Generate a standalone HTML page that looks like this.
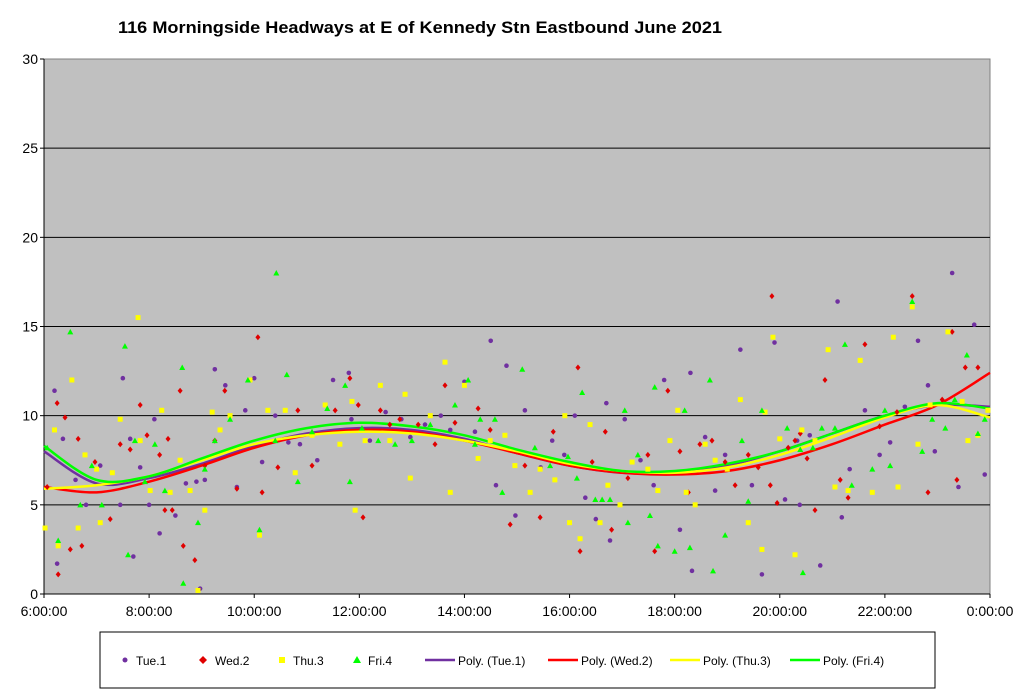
<!DOCTYPE html>
<html><head><meta charset="utf-8"><style>
body{margin:0;background:#fff;width:1024px;height:694px;overflow:hidden;font-family:"Liberation Sans",Arial,sans-serif}
</style></head><body>
<svg id="chart" width="1024" height="694" xmlns="http://www.w3.org/2000/svg" font-family="Liberation Sans, Arial, sans-serif">
<text x="118" y="33" font-size="17" font-weight="bold" textLength="604" lengthAdjust="spacingAndGlyphs">116 Morningside Headways at E of Kennedy Stn Eastbound June 2021</text>
<rect x="44" y="59" width="946" height="535" fill="#c0c0c0" stroke="#808080"/>
<g id="grid"></g><g id="axes"></g><g id="trends"></g><g id="points"></g>
<g>
<rect x="100" y="632" width="835" height="56" fill="#fff" stroke="#000"/>
<circle cx="125" cy="660" r="2.5" fill="#7030a0"/><text x="136" y="665" font-size="12">Tue.1</text>
<polygon points="203,656 207,660 203,664 199,660" fill="#e00000"/><text x="215" y="665" font-size="12">Wed.2</text>
<rect x="279" y="657" width="6" height="6" fill="#ffff00"/><text x="293" y="665" font-size="12">Thu.3</text>
<polygon points="357,656 361,663 353,663" fill="#00ff00"/><text x="368" y="665" font-size="12">Fri.4</text>
<line x1="425" y1="660" x2="455" y2="660" stroke="#7030a0" stroke-width="2.5"/><text x="458" y="665" font-size="12">Poly. (Tue.1)</text>
<line x1="548" y1="660" x2="578" y2="660" stroke="#ff0000" stroke-width="2.5"/><text x="581" y="665" font-size="12">Poly. (Wed.2)</text>
<line x1="670" y1="660" x2="700" y2="660" stroke="#ffff00" stroke-width="2.5"/><text x="703" y="665" font-size="12">Poly. (Thu.3)</text>
<line x1="790" y1="660" x2="820" y2="660" stroke="#00ff00" stroke-width="2.5"/><text x="823" y="665" font-size="12">Poly. (Fri.4)</text>
</g>
</svg>
<script>
const yTicks=[0,5,10,15,20,25,30];
const xTicks=[6,8,10,12,14,16,18,20,22,24];
const xTickLabels=["6:00:00","8:00:00","10:00:00","12:00:00","14:00:00","16:00:00","18:00:00","20:00:00","22:00:00","0:00:00"];
const trendHours=[6,7,8,9,10,11,12,13,14,15,16,17,18,19,20,21,22,23,24];
const tueTrend=[8.0,6.2,6.5,7.3,8.3,9.0,9.3,9.2,8.7,7.9,7.2,6.8,6.8,7.2,8.0,9.0,10.0,10.6,10.5];
const wedTrend=[6.0,5.7,6.3,7.2,8.2,8.9,9.2,9.1,8.6,7.9,7.2,6.8,6.7,6.9,7.5,8.4,9.5,10.6,12.4];
const thuTrend=[5.9,6.1,6.6,7.5,8.4,8.9,9.1,9.0,8.6,8.0,7.3,6.9,6.8,7.1,7.8,8.8,9.9,10.6,9.9];
const friTrend=[8.3,6.4,6.6,7.6,8.6,9.3,9.6,9.4,8.9,8.1,7.4,6.9,6.9,7.3,8.0,9.0,10.0,10.7,10.4];
const tuePoints=[[6.2,11.4],[6.25,1.7],[6.36,8.7],[6.6,6.4],[6.8,5.0],[7.07,7.2],[7.45,5.0],[7.5,12.1],[7.64,8.7],[7.7,2.1],[7.83,7.1],[8.0,5],[8.1,9.8],[8.2,3.4],[8.5,4.4],[8.7,6.2],[8.9,6.3],[8.97,0.3],[9.06,6.4],[9.25,12.6],[9.45,11.7],[9.67,6],[9.83,10.3],[10.0,12.1],[10.15,7.4],[10.4,10],[10.65,8.5],[10.87,8.4],[11.2,7.5],[11.5,12],[11.8,12.4],[11.85,9.8],[12.2,8.6],[12.5,10.2],[12.8,9.8],[12.97,8.8],[13.25,9.5],[13.55,10],[13.73,9.2],[14.0,11.9],[14.2,9.1],[14.5,14.2],[14.6,6.1],[14.8,12.8],[14.97,4.4],[15.15,10.3],[15.45,7.1],[15.67,8.6],[15.9,7.8],[16.1,10],[16.3,5.4],[16.5,4.2],[16.7,10.7],[16.77,3.0],[17.05,9.8],[17.35,7.5],[17.6,6.1],[17.8,12],[18.1,3.6],[18.3,12.4],[18.33,1.3],[18.58,8.8],[18.77,5.8],[18.96,7.8],[19.25,13.7],[19.47,6.1],[19.66,1.1],[19.9,14.1],[20.1,5.3],[20.33,8.6],[20.38,5.0],[20.57,8.9],[20.77,1.6],[21.1,16.4],[21.18,4.3],[21.33,7],[21.62,10.3],[21.9,7.8],[22.1,8.5],[22.38,10.5],[22.63,14.2],[22.82,11.7],[22.95,8],[23.28,18],[23.4,6],[23.7,15.1],[23.9,6.7]];
const wedPoints=[[6.06,6],[6.25,10.7],[6.27,1.1],[6.4,9.9],[6.5,2.5],[6.65,8.7],[6.72,2.7],[6.97,7.4],[7.26,4.2],[7.45,8.4],[7.64,8.1],[7.83,10.6],[7.96,8.9],[8.2,7.8],[8.3,4.7],[8.36,8.7],[8.44,4.7],[8.59,11.4],[8.65,2.7],[8.87,1.9],[9.06,7.2],[9.25,8.6],[9.44,11.4],[9.67,5.9],[10.07,14.4],[10.15,5.7],[10.45,7.1],[10.83,10.3],[11.1,7.2],[11.54,10.3],[11.82,12.1],[11.98,10.6],[12.07,4.3],[12.4,10.3],[12.58,9.5],[12.77,9.8],[13.12,9.5],[13.44,8.4],[13.63,11.7],[13.82,9.6],[14.26,10.4],[14.49,9.2],[14.87,3.9],[15.15,7.2],[15.44,4.3],[15.69,9.1],[16.16,12.7],[16.2,2.4],[16.43,7.4],[16.68,9.1],[16.8,3.6],[17.11,6.5],[17.49,7.8],[17.62,2.4],[17.87,11.4],[18.1,8.0],[18.26,5.7],[18.48,8.4],[18.71,8.6],[18.96,7.4],[19.15,6.1],[19.4,7.8],[19.59,7.1],[19.82,6.1],[19.85,16.7],[19.95,5.1],[20.16,8.2],[20.29,8.6],[20.39,9.0],[20.52,7.6],[20.67,4.7],[20.86,12],[21.15,6.4],[21.3,5.4],[21.62,14],[21.9,9.4],[22.23,10.2],[22.52,16.7],[22.82,5.7],[23.09,10.9],[23.28,14.7],[23.37,6.4],[23.53,12.7],[23.77,12.7]];
const thuPoints=[[6.02,3.7],[6.2,9.2],[6.27,2.7],[6.53,12],[6.65,3.7],[6.78,7.8],[7.0,7],[7.07,4],[7.3,6.8],[7.45,9.8],[7.79,15.5],[7.83,8.6],[8.02,5.8],[8.24,10.3],[8.4,5.7],[8.59,7.5],[8.78,5.8],[8.93,0.2],[9.06,4.7],[9.2,10.2],[9.35,9.2],[9.54,10],[9.92,12],[10.1,3.3],[10.26,10.3],[10.59,10.3],[10.78,6.8],[11.1,8.9],[11.35,10.6],[11.63,8.4],[11.86,10.8],[11.92,4.7],[12.11,8.6],[12.4,11.7],[12.58,8.6],[12.87,11.2],[12.97,6.5],[13.35,10],[13.63,13],[13.73,5.7],[14.0,11.7],[14.26,7.6],[14.49,8.6],[14.77,8.9],[14.96,7.2],[15.25,5.7],[15.44,7],[15.72,6.4],[15.91,10],[16.0,4],[16.2,3.1],[16.39,9.5],[16.58,4],[16.73,6.1],[16.96,5],[17.19,7.4],[17.49,7],[17.68,5.8],[17.91,8.6],[18.06,10.3],[18.22,5.7],[18.39,5],[18.58,8.4],[18.77,7.5],[19.0,7],[19.25,10.9],[19.4,4],[19.66,2.5],[19.72,10.2],[19.87,14.4],[20.0,8.7],[20.29,2.2],[20.42,9.2],[20.67,8.6],[20.92,13.7],[21.05,6],[21.3,5.8],[21.53,13.1],[21.76,5.7],[22.16,14.4],[22.25,6],[22.52,16.1],[22.63,8.4],[22.86,10.6],[23.2,14.7],[23.47,10.8],[23.58,8.6],[23.77,8.9],[23.96,10.3]];
const friPoints=[[6.06,8.2],[6.27,3],[6.5,14.7],[6.69,5],[6.91,7.2],[7.1,5],[7.54,13.9],[7.6,2.2],[7.73,8.6],[7.92,6.3],[8.11,8.4],[8.3,5.8],[8.63,12.7],[8.65,0.6],[8.93,4],[9.06,7],[9.25,8.6],[9.54,9.8],[9.88,12],[10.1,3.6],[10.4,8.6],[10.42,18],[10.62,12.3],[10.83,6.3],[11.1,9.1],[11.39,10.4],[11.73,11.7],[11.82,6.3],[12.05,9.3],[12.36,8.6],[12.68,8.4],[13.0,8.6],[13.35,9.5],[13.82,10.6],[14.07,12],[14.2,8.4],[14.3,9.8],[14.58,9.8],[14.72,5.7],[15.1,12.6],[15.34,8.2],[15.63,7.2],[15.97,7.7],[16.14,6.5],[16.24,11.3],[16.49,5.3],[16.62,5.3],[16.77,5.3],[17.05,10.3],[17.11,4],[17.3,7.8],[17.53,4.4],[17.62,11.6],[17.68,2.7],[18.0,2.4],[18.19,10.3],[18.29,2.6],[18.67,12],[18.73,1.3],[18.96,3.3],[19.28,8.6],[19.4,5.2],[19.66,10.3],[20.14,9.3],[20.39,8.1],[20.44,1.2],[20.63,8.2],[20.8,9.3],[21.05,9.3],[21.24,14],[21.37,6.1],[21.76,7],[22.0,10.3],[22.1,7.2],[22.52,16.4],[22.71,8],[22.9,9.8],[23.15,9.3],[23.33,10.9],[23.56,13.4],[23.77,9],[23.9,9.8]];

const X0=44,X1=990,Y0=594,Y1=59;
const xs=h=>X0+(h-6)/18*(X1-X0);
const ys=v=>Y0-v/30*(Y0-Y1);
const NS="http://www.w3.org/2000/svg";
function mk(tag,attrs,parent){const e=document.createElementNS(NS,tag);for(const k in attrs)e.setAttribute(k,attrs[k]);document.getElementById(parent).appendChild(e);return e;}

yTicks.forEach(t=>{
  if(t>0&&t<30){const g=mk('line',{x1:X0,x2:X1,y1:ys(t),y2:ys(t),stroke:'#000','stroke-width':1},'grid');
  
  }
  mk('line',{x1:X0-4,x2:X0,y1:ys(t),y2:ys(t),stroke:'#000'},'axes');
  const tx=mk('text',{x:X0-6,y:ys(t)+5,'text-anchor':'end','font-size':14},'axes');
  
  
  tx.textContent=t;
});
mk('line',{x1:X0,x2:X0,y1:Y1,y2:Y0,stroke:'#000'},'axes');
mk('line',{x1:X0,x2:X1,y1:Y0,y2:Y0,stroke:'#000'},'axes');
xTicks.forEach((t,i)=>{
  mk('line',{x1:xs(t),x2:xs(t),y1:Y0,y2:Y0+4,stroke:'#000'},'axes');
  const tx=mk('text',{x:xs(t),y:Y0+22,'text-anchor':'middle','font-size':14},'axes');
  
  
  tx.textContent=xTickLabels[i];
});

function smooth(hours,vals){
  const p=hours.map((h,i)=>[xs(h),ys(vals[i])]);
  let d='M'+p[0][0]+','+p[0][1];
  for(let i=0;i<p.length-1;i++){
    const a=p[Math.max(0,i-1)],b=p[i],c=p[i+1],e=p[Math.min(p.length-1,i+2)];
    d+=' C'+(b[0]+(c[0]-a[0])/6)+','+(b[1]+(c[1]-a[1])/6)+' '+(c[0]-(e[0]-b[0])/6)+','+(c[1]-(e[1]-b[1])/6)+' '+c[0]+','+c[1];
  }
  return d;
}
[[tueTrend,'#7030a0','trend-tue'],[wedTrend,'#ff0000','trend-wed'],[thuTrend,'#ffff00','trend-thu'],[friTrend,'#00ff00','trend-fri']].forEach(([v,c,n])=>{
  const p=mk('path',{d:smooth(trendHours,v),fill:'none',stroke:c,'stroke-width':2.5},'trends');
  
  
});

tuePoints.forEach(([h,v])=>{const e=mk('circle',{cx:xs(h),cy:ys(v),r:2.3,fill:'#7030a0'},'points');
  
  });
wedPoints.forEach(([h,v])=>{const x=xs(h),y=ys(v);const e=mk('polygon',{points:`${x},${y-3} ${x+2.5},${y} ${x},${y+3} ${x-2.5},${y}`,fill:'#e00000'},'points');
  
  });
thuPoints.forEach(([h,v])=>{const e=mk('rect',{x:xs(h)-2.5,y:ys(v)-2.5,width:5,height:5,fill:'#ffff00'},'points');
  
  });
friPoints.forEach(([h,v])=>{const x=xs(h),y=ys(v);const e=mk('polygon',{points:`${x},${y-3} ${x+3},${y+2.5} ${x-3},${y+2.5}`,fill:'#00ff00'},'points');
  
  });
</script>
</body></html>
